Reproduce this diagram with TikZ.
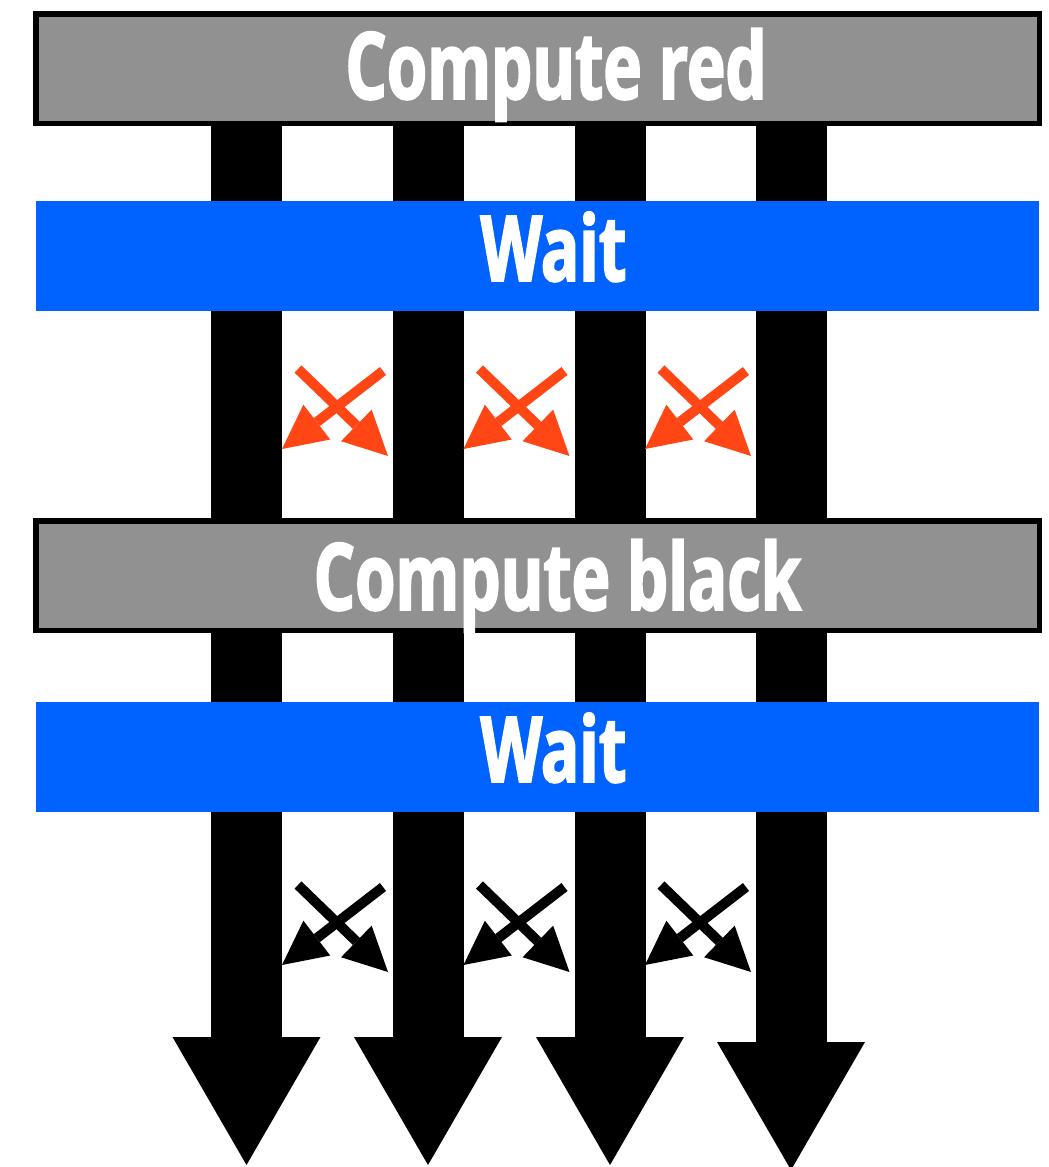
\documentclass[tikz,border=0pt]{standalone}
\usepackage{fontspec}
\newfontfamily\phasefont[FakeStretch=0.70, FakeBold=2]{Open Sans}
\usetikzlibrary{arrows.meta, backgrounds}
\definecolor{phasegray}{RGB}{145,145,145}
\definecolor{waitblue}{RGB}{0,98,255}
\definecolor{msgred}{RGB}{255,70,20}

\tikzset{
  phase/.style={draw=black, line width=5.5pt, fill=phasegray, inner sep=0pt,
    minimum width=1003.5pt, minimum height=109.5pt},
  barrier/.style={fill=waitblue, inner sep=0pt, minimum width=1003pt, minimum height=110pt},
  phaselabel/.style={anchor=base, inner sep=0pt, text=white,
    font=\phasefont\bfseries\fontsize{93}{93}\selectfont},
  waitlabel/.style={phaselabel, font=\phasefont\bfseries\fontsize{91}{91}\selectfont},
  thread/.style={line width=71pt, -{Triangle[width=148pt, length=128pt, line width=0pt]}},
  msg/.style={line width=10pt, -{Triangle[width=44pt, length=44pt, line width=0pt]}},
}

\begin{document}
% pixel-like units, y running downwards
\begin{tikzpicture}[x=1pt, y=-1pt]
  \useasboundingbox (0,0) rectangle (1049,1167);

  % the two compute phases and the waits after them
  \node[phase] (red) at (537.5,68.5) {};
  \node[barrier] (wait1) at (537.5,256) {};
  \node[phase] (black) at (537.5,575.5) {};
  \node[barrier] (wait2) at (537.5,757) {};

  \node[phaselabel] (redtext) at (556,99) {Compute red};
  \node[waitlabel] (wait1text) at (553.5,281) {Wait};
  \node[phaselabel] (blacktext) at (557.5,610) {Compute black};
  \node[waitlabel] (wait2text) at (553.5,782) {Wait};

  % one thick arrow per thread, behind the boxes
  \begin{scope}[on background layer]
    \foreach \x/\y [count=\i] in {246.5/1165, 428/1165, 610/1165, 791/1170} {
      \coordinate (end\i) at (\x,\y);
      \draw[thread] (red.south -| end\i) -- (end\i);
    }
  \end{scope}

  % exchange of boundary values between neighbouring threads
  \foreach \c [count=\i] in {337.5, 519, 700.5} {
    \foreach \y/\col/\tag in {369/msgred/r, 885/black/b} {
      \coordinate (\tag a\i) at (\c-39.5,\y);
      \coordinate (\tag b\i) at (\c+50.5,\y+87);
      \coordinate (\tag c\i) at (\c+45.5,\y+2);
      \coordinate (\tag d\i) at (\c-55.5,\y+80);
      \draw[msg, \col] (\tag a\i) -- (\tag b\i);
      \draw[msg, \col] (\tag c\i) -- (\tag d\i);
    }
  }
\end{tikzpicture}
\end{document}
